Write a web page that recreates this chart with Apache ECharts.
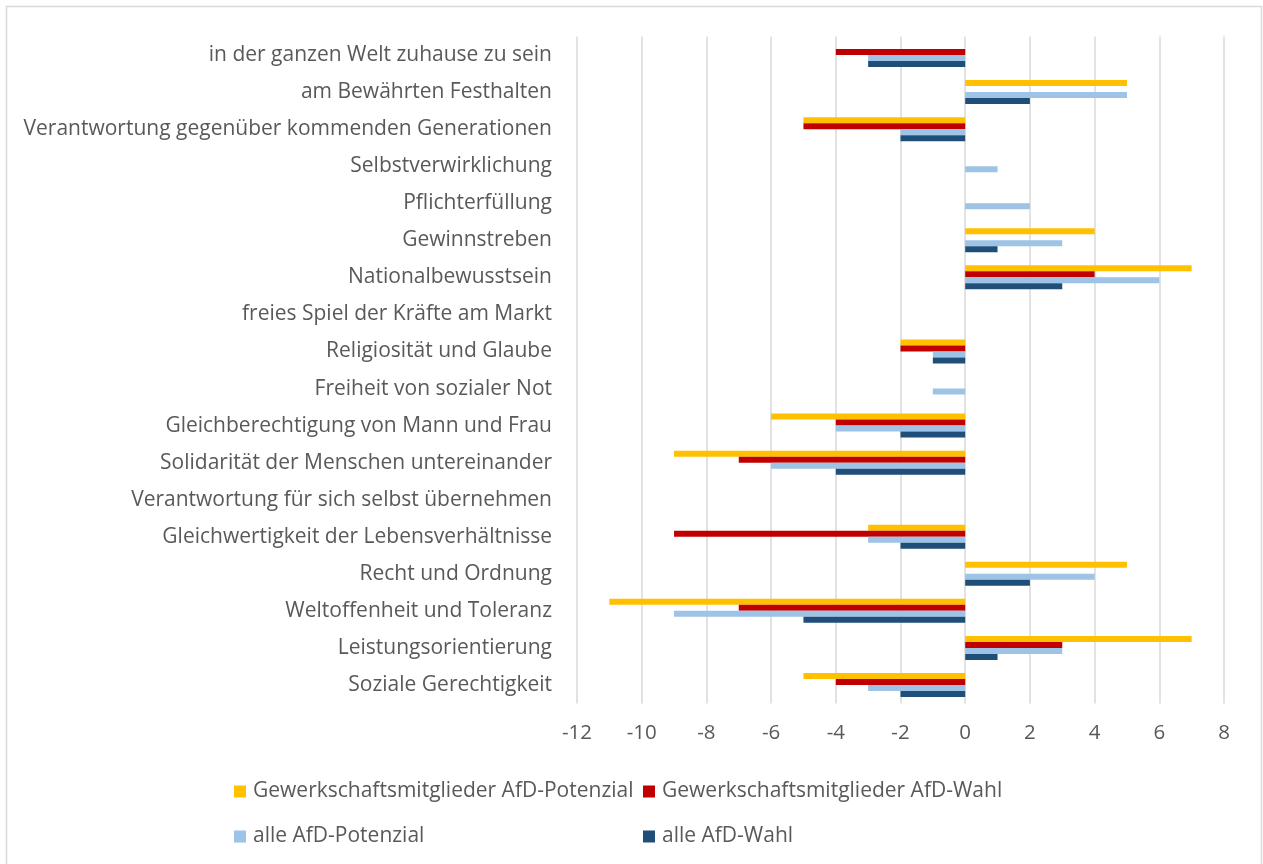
<!DOCTYPE html>
<html>
<head>
<meta charset="utf-8">
<script src="https://cdn.jsdelivr.net/npm/echarts@6/dist/echarts.min.js"></script>
<style>
html,body{margin:0;padding:0;background:#fff;}
#chart{width:1263px;height:864px;}
</style>
</head>
<body>
<div id="chart"></div>
<script>
const categories = [
  "in der ganzen Welt zuhause zu sein",
  "am Bewährten Festhalten",
  "Verantwortung gegenüber kommenden Generationen",
  "Selbstverwirklichung",
  "Pflichterfüllung",
  "Gewinnstreben",
  "Nationalbewusstsein",
  "freies Spiel der Kräfte am Markt",
  "Religiosität und Glaube",
  "Freiheit von sozialer Not",
  "Gleichberechtigung von Mann und Frau",
  "Solidarität der Menschen untereinander",
  "Verantwortung für sich selbst übernehmen",
  "Gleichwertigkeit der Lebensverhältnisse",
  "Recht und Ordnung",
  "Weltoffenheit und Toleranz",
  "Leistungsorientierung",
  "Soziale Gerechtigkeit"
];
const seriesNames = [
  "Gewerkschaftsmitglieder AfD-Potenzial",
  "Gewerkschaftsmitglieder AfD-Wahl",
  "alle AfD-Potenzial",
  "alle AfD-Wahl"
];
const gmPotenzial = [0, 5, -5, 0, 0, 4, 7, 0, -2, 0, -6, -9, 0, -3, 5, -11, 7, -5];
const gmWahl      = [-4, 0, -5, 0, 0, 0, 4, 0, -2, 0, -4, -7, 0, -9, 0, -7, 3, -4];
const allePotenzial = [-3, 5, -2, 1, 2, 3, 6, 0, -1, -1, -4, -6, 0, -3, 4, -9, 3, -3];
const alleWahl    = [-3, 2, -2, 0, 0, 1, 3, 0, -1, 0, -2, -4, 0, -2, 2, -5, 1, -2];
const xTicks = { min: -12, max: 8, interval: 2 };

const colors = ["#FFC000", "#C00000", "#9DC3E6", "#1F4E79"];
const values = [gmPotenzial, gmWahl, allePotenzial, alleWahl];
const FONT = "Open Sans";
const TXT = "#595959";

const legendPos = [
  { left: 229, top: 776 },
  { left: 638, top: 776 },
  { left: 229, top: 821 },
  { left: 638, top: 821 }
];

const chart = echarts.init(document.getElementById('chart'), null, { renderer: 'canvas' });
chart.setOption({
  animation: false,
  backgroundColor: '#fff',
  textStyle: { fontFamily: FONT },
  grid: { left: 577, right: 39, top: 36.5, bottom: 160.5, containLabel: false },
  xAxis: {
    type: 'value',
    min: xTicks.min, max: xTicks.max, interval: xTicks.interval,
    axisLine: { show: false },
    axisTick: { show: false },
    axisLabel: { color: TXT, fontSize: 20.5, fontFamily: FONT, margin: 19 },
    splitLine: { show: true, lineStyle: { color: '#D9D9D9', width: 1.5 } }
  },
  yAxis: {
    type: 'category',
    inverse: true,
    data: categories,
    axisLine: { show: false },
    axisTick: { show: false },
    axisLabel: { color: TXT, fontSize: 21, fontFamily: FONT, margin: 25 }
  },
  legend: legendPos.map((p, i) => ({
    left: p.left, top: p.top,
    data: [seriesNames[i]],
    itemWidth: 12, itemHeight: 12,
    icon: 'rect',
    textStyle: { color: TXT, fontSize: 21, fontFamily: FONT, padding: [0, 0, 0, 2] },
    selectedMode: false
  })),
  graphic: [{
    type: 'rect',
    shape: { x: 6.5, y: 6.5, width: 1255, height: 880 },
    style: { fill: 'none', stroke: '#D9D9D9', lineWidth: 1.5 },
    silent: true
  }],
  series: seriesNames.map((name, i) => ({
    name: name,
    type: 'bar',
    data: values[i],
    barWidth: 6,
    barGap: '0%',
    itemStyle: { color: colors[i] }
  }))
});
</script>
</body>
</html>
